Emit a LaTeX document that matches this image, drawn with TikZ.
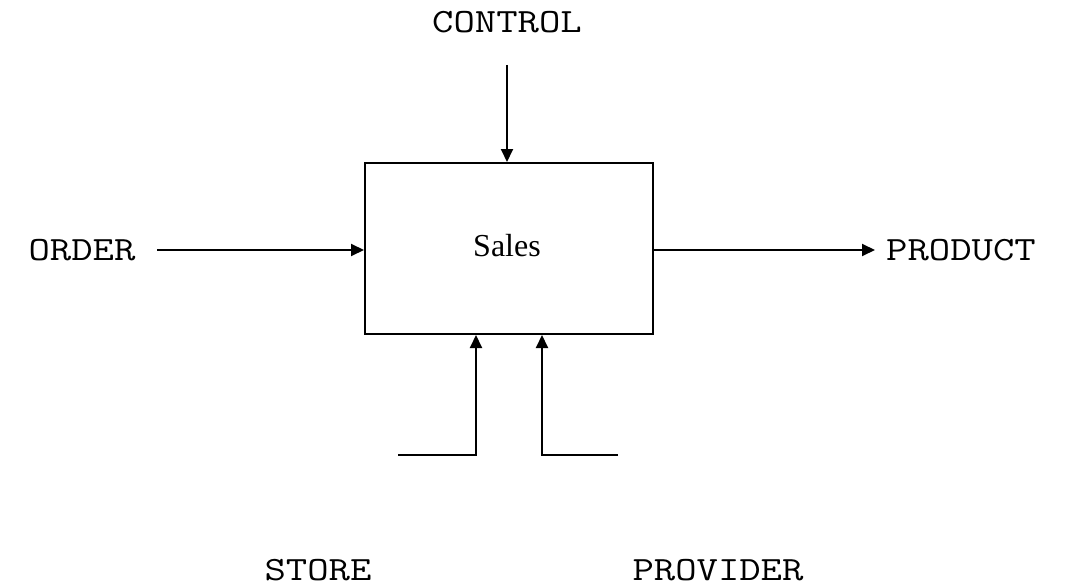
\documentclass[tikz,border=0pt]{standalone}
\usepackage{fontspec}
\setmainfont{Liberation Serif}
\newfontfamily\labfont[FakeStretch=1.22]{Latin Modern Mono}
\usetikzlibrary{arrows.meta}
\begin{document}
\begin{tikzpicture}[x=1pt,y=-1pt,
  line width=2pt,
  lab/.style={font=\labfont\fontsize{34}{38}\selectfont, inner sep=0pt, anchor=base},
  flow/.style={-{Triangle[length=13pt,width=12pt]}},
  proc/.style={draw, minimum width=288pt, minimum height=171pt, inner sep=0pt}]
\useasboundingbox[fill=white] (0,0) rectangle (1069,586);
\node[proc] (box) at (509,248.5) {};
\node[font=\fontsize{32}{36}\selectfont, inner sep=0pt, anchor=base] (sales) at (507,256) {Sales};
\node[lab] (control) at (507,33) {CONTROL};
\node[lab] (order) at (82,260) {ORDER};
\node[lab] (product) at (961,260) {PRODUCT};
\node[lab] (store) at (318,580) {STORE};
\node[lab] (provider) at (718,580) {PROVIDER};
\coordinate (ctop) at (507,65);
\coordinate (ostart) at (157,250);
\coordinate (pend) at (875,250);
\coordinate (sstart) at (398,455);
\coordinate (sup) at (476,334);
\coordinate (pstart) at (618,455);
\coordinate (pup) at (542,334);
\draw[flow] (ctop) -- (ctop |- box.north);
\draw[flow] (ostart) -- (ostart -| box.west);
\draw[flow] (pend -| box.east) -- (pend);
\draw[flow] (sstart) -| (sup |- box.south);
\draw[flow] (pstart) -| (pup |- box.south);
\end{tikzpicture}
\end{document}
